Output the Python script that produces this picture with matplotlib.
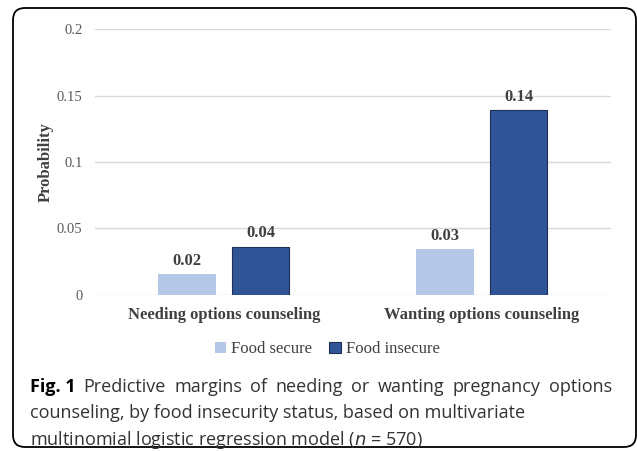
import matplotlib.pyplot as plt
from matplotlib.patches import FancyBboxPatch
import numpy as np

# Predictive margins by food security status
categorias = ["Needing options counseling", "Wanting options counseling"]
grupos = ["Food secure", "Food insecure"]
food_secure = [0.0152, 0.034]
food_insecure = [0.036, 0.139]
yticks = [0, 0.05, 0.1, 0.15, 0.2]
ytick_labels = ["0", "0.05", "0.1", "0.15", "0.2"]

titulo_fig = "Fig. 1"
linha1 = "Predictive margins of needing or wanting pregnancy options"
linhas_legenda = [
    "counseling, by food insecurity status, based on multivariate",
    "multinomial logistic regression model ($\\it{n}$ = 570)",
]

serif = "Liberation Serif"
sans = "Open Sans"

fig = plt.figure(figsize=(6.37, 4.51), dpi=100)
ax = fig.add_axes([0.149, 0.347, 0.810, 0.5876])

x = np.arange(len(categorias))
largura = 0.223
desloc = 0.1425
b1 = ax.bar(x - desloc, food_secure, largura, color="#B4C7E7", label=grupos[0], zorder=3)
b2 = ax.bar(x + desloc, food_insecure, largura, color="#2F5597", edgecolor="#1F2F55",
            linewidth=0.8, label=grupos[1], zorder=3)

for barras in (b1, b2):
    for r in barras:
        v = r.get_height()
        ax.annotate(f"{v:.2f}", (r.get_x() + r.get_width() / 2, v), xytext=(0, 4),
                    textcoords="offset points", ha="center", va="bottom",
                    fontsize=12, fontweight="bold", family=serif, color="#404040")

ax.set_xlim(-0.5, 1.5)
ax.set_ylim(0, 0.2)
ax.set_yticks(yticks)
ax.set_yticklabels(ytick_labels, family=serif, fontsize=10.5, color="#595959")
ax.set_xticks(x)
ax.set_xticklabels(categorias, family=serif, fontsize=12, fontweight="bold", color="#404040")
ax.tick_params(axis="both", length=0)
ax.tick_params(axis="y", pad=9)
ax.tick_params(axis="x", pad=9)
for s in ax.spines.values():
    s.set_visible(False)
ax.grid(axis="y", color="#D9D9D9", linewidth=1, zorder=0)
ax.set_ylabel("Probability", family=serif, fontsize=12, fontweight="bold",
              color="#404040", labelpad=2)

leg = ax.legend(loc="upper center", bbox_to_anchor=(0.45, -0.12), ncol=2, frameon=False,
                prop={"family": serif, "size": 12}, handlelength=0.7, handleheight=0.7,
                handletextpad=0.3, columnspacing=1.0)
for t in leg.get_texts():
    t.set_color("#404040")

# moldura arredondada
caixa = FancyBboxPatch((0.13, 0.04), 6.23, 4.39, boxstyle="round,pad=0,rounding_size=0.12",
                       transform=fig.dpi_scale_trans, fill=False, edgecolor="black",
                       linewidth=1.3, clip_on=False)
fig.patches.append(caixa)

# legenda da figura (primeira linha justificada)
x0, x1 = 29.5, 612.0
y0 = 1 - 392 / 451
dy = 26.3 / 451
fig.canvas.draw()
rend = fig.canvas.get_renderer()
palavras = [(titulo_fig, "bold", "black")] + [(p, "normal", "#333333") for p in linha1.split()]
textos = []
for p, peso, cor in palavras:
    t = fig.text(0, y0, p, family=sans, fontsize=13, fontweight=peso, color=cor, va="baseline")
    textos.append(t)
larguras = [t.get_window_extent(rend).width for t in textos]
espaco = (x1 - x0 - sum(larguras)) / (len(textos) - 1)
pos = x0
for t, w in zip(textos, larguras):
    t.set_x(pos / fig.bbox.width)
    pos += w + espaco
for i, linha in enumerate(linhas_legenda):
    fig.text(x0 / fig.bbox.width, y0 - dy * (i + 1), linha, family=sans, fontsize=13,
             color="#333333", va="baseline")

fig.savefig("out.png", dpi=100)
